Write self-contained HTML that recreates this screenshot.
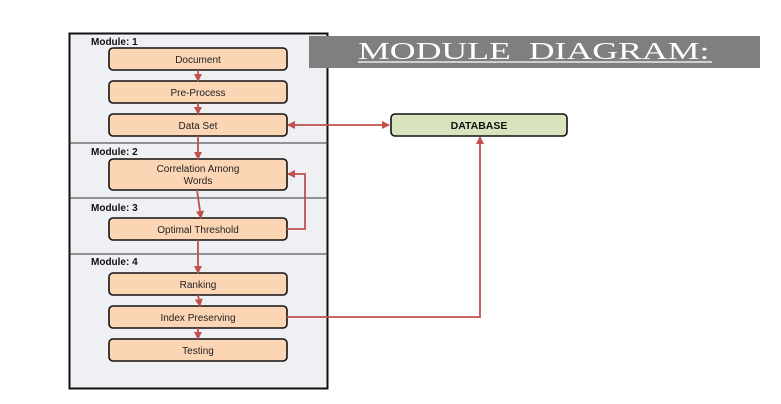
<!DOCTYPE html>
<html><head><meta charset="utf-8"><style>
html,body{margin:0;padding:0;background:#fff;width:781px;height:404px;overflow:hidden}
svg{display:block}
text{font-family:"Liberation Sans","DejaVu Sans",sans-serif}
</style></head><body>
<svg width="781" height="404" viewBox="0 0 781 404" xmlns="http://www.w3.org/2000/svg">
<defs>
<marker id="ah" markerWidth="8" markerHeight="8" refX="7" refY="4" orient="auto" markerUnits="userSpaceOnUse">
<path d="M0,0 L8,4 L0,8 z" fill="#c0504d"/></marker>
</defs>
<rect x="69.5" y="33.5" width="258" height="355" fill="#eef0f4" stroke="#111" stroke-width="2"/>
<line x1="69" y1="143" x2="328" y2="143" stroke="#333" stroke-width="1"/>
<line x1="69" y1="198" x2="328" y2="198" stroke="#333" stroke-width="1"/>
<line x1="69" y1="254" x2="328" y2="254" stroke="#333" stroke-width="1"/>
<g font-size="10" font-weight="bold" fill="#111">
<text x="91" y="45">Module: 1</text>
<text x="91" y="155">Module: 2</text>
<text x="91" y="211">Module: 3</text>
<text x="91" y="265">Module: 4</text>
</g>
<g fill="#fcd5b4" stroke="#111" stroke-width="1.6">
<rect x="109" y="48" width="178" height="22" rx="4"/>
<rect x="109" y="81" width="178" height="22" rx="4"/>
<rect x="109" y="114" width="178" height="22" rx="4"/>
<rect x="109" y="159" width="178" height="31" rx="4"/>
<rect x="109" y="218" width="178" height="22" rx="4"/>
<rect x="109" y="273" width="178" height="22" rx="4"/>
<rect x="109" y="306" width="178" height="22" rx="4"/>
<rect x="109" y="339" width="178" height="22" rx="4"/>
</g>
<rect x="391" y="114" width="176" height="22" rx="4" fill="#d7e4bd" stroke="#111" stroke-width="1.6"/>
<g font-size="10" fill="#222" text-anchor="middle">
<text x="198" y="63">Document</text>
<text x="198" y="96">Pre-Process</text>
<text x="198" y="129">Data Set</text>
<text x="198" y="172">Correlation Among</text>
<text x="198" y="184">Words</text>
<text x="198" y="233">Optimal Threshold</text>
<text x="198" y="288">Ranking</text>
<text x="198" y="321">Index Preserving</text>
<text x="198" y="354">Testing</text>
<text x="479" y="129" font-weight="bold" font-size="10.5" fill="#111">DATABASE</text>
</g>
<g stroke="#c0504d" stroke-width="1.8" fill="none">
<line x1="198" y1="70" x2="198" y2="81" marker-end="url(#ah)"/>
<line x1="198" y1="103" x2="198" y2="114" marker-end="url(#ah)"/>
<line x1="198" y1="136" x2="198" y2="159" marker-end="url(#ah)"/>
<line x1="197" y1="190" x2="201" y2="218" marker-end="url(#ah)"/>
<line x1="198" y1="240" x2="198" y2="273" marker-end="url(#ah)"/>
<line x1="198" y1="295" x2="200" y2="306" marker-end="url(#ah)"/>
<line x1="198" y1="328" x2="198" y2="339" marker-end="url(#ah)"/>
<polyline points="287,229 305,229 305,174 288,174" marker-end="url(#ah)"/>
<line x1="300" y1="125" x2="389" y2="125" marker-end="url(#ah)"/>
<line x1="300" y1="125" x2="288" y2="125" marker-end="url(#ah)"/>
<polyline points="287,317 480,317 480,137" marker-end="url(#ah)"/>
</g>
<rect x="309" y="36" width="451" height="32" fill="#7f7f7f"/>
<text transform="translate(358,59) scale(1.49,1)" x="0" y="0" font-size="24" fill="#fff" style="font-family:'Liberation Serif',serif">MODULE&#160;&#160;DIAGRAM:</text>
<line x1="358" y1="62" x2="712" y2="62" stroke="#fff" stroke-width="1.2"/>
</svg>
</body></html>
